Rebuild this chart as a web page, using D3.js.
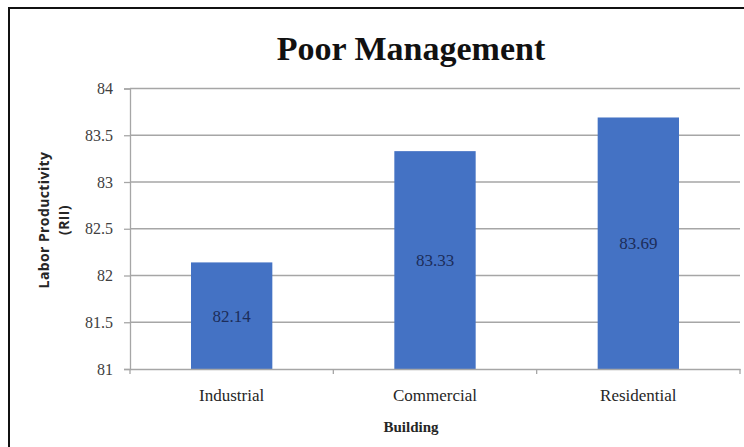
<!DOCTYPE html>
<html><head><meta charset="utf-8">
<script src="https://cdn.jsdelivr.net/npm/d3@7"></script>
<style>html,body{margin:0;padding:0;background:#fff;}svg{display:block;}</style>
</head><body>
<svg id="c" width="744" height="447"></svg>
<script>
const categories = ["Industrial", "Commercial", "Residential"];
const values = [82.14, 83.33, 83.69];
const valueLabels = ["82.14", "83.33", "83.69"];
const yTicks = [81, 81.5, 82, 82.5, 83, 83.5, 84];
const chartTitle = "Poor Management";
const xTitle = "Building";
const yTitleLines = ["Labor Productivity", "(RII)"];

const svg = d3.select("#c");
const serif = "'Liberation Serif','Times New Roman',serif";
const sans = "'Open Sans','Liberation Sans',Arial,sans-serif";

// outer frame
svg.append("rect").attr("x", 9).attr("y", 8).attr("width", 760).attr("height", 460)
  .attr("fill", "#fff").attr("stroke", "#111").attr("stroke-width", 2);

const L = 130, R = 740, T = 88.5, B = 369;
const x = d3.scaleBand().domain(categories).range([L, R]).paddingInner(0.6).paddingOuter(0.3);
const y = d3.scaleLinear().domain([81, 84]).range([B, T]);

// gridlines
svg.append("g").selectAll("line").data(yTicks.slice(1)).join("line")
  .attr("x1", L).attr("x2", R).attr("y1", d => y(d)).attr("y2", d => y(d))
  .attr("stroke", "#a6a6a6").attr("stroke-width", 1.3);

// y axis
const ya = svg.append("g").attr("transform", `translate(${L},0)`)
  .call(d3.axisLeft(y).tickValues(yTicks).tickSize(6).tickPadding(11).tickFormat(d3.format("")));
ya.select(".domain").attr("stroke", "#a6a6a6").attr("stroke-width", 1.3);
ya.selectAll(".tick line").attr("stroke", "#a6a6a6").attr("stroke-width", 1.3);
ya.selectAll("text").attr("font-family", serif).attr("font-size", 16).attr("fill", "#404040");

// bars
svg.append("g").selectAll("rect").data(values).join("rect")
  .attr("x", (d, i) => x(categories[i]))
  .attr("width", x.bandwidth())
  .attr("y", d => y(d))
  .attr("height", d => y(81) - y(d))
  .attr("fill", "#4472c4");

// x axis
const xa = svg.append("g").attr("transform", `translate(0,${B})`)
  .call(d3.axisBottom(x).tickSize(0).tickPadding(20));
xa.select(".domain").attr("stroke", "#a6a6a6").attr("stroke-width", 1.3);
xa.selectAll("text").attr("font-family", serif).attr("font-size", 17).attr("fill", "#262626");
// boundary ticks
svg.append("g").selectAll("line").data(d3.range(categories.length + 1)).join("line")
  .attr("x1", i => L + i * (R - L) / categories.length).attr("x2", i => L + i * (R - L) / categories.length)
  .attr("y1", B).attr("y2", B + 5).attr("stroke", "#a6a6a6").attr("stroke-width", 1.3);

// value labels
svg.append("g").selectAll("text").data(values).join("text")
  .attr("x", (d, i) => x(categories[i]) + x.bandwidth() / 2)
  .attr("y", d => (y(d) + y(81)) / 2 + 6)
  .attr("text-anchor", "middle").attr("font-family", serif).attr("font-size", 17)
  .attr("fill", "#1c2d5a").text((d, i) => valueLabels[i]);

// titles
svg.append("text").attr("x", 411).attr("y", 60).attr("text-anchor", "middle")
  .attr("font-family", serif).attr("font-weight", "bold").attr("font-size", 34)
  .attr("fill", "#111").text(chartTitle);
svg.append("text").attr("x", 411).attr("y", 432).attr("text-anchor", "middle")
  .attr("font-family", serif).attr("font-weight", "bold").attr("font-size", 15)
  .attr("fill", "#262626").text(xTitle);
const yt = svg.append("text").attr("transform", "translate(49,220) rotate(-90)")
  .attr("text-anchor", "middle").attr("font-family", sans).attr("font-weight", "bold")
  .attr("font-size", 14).attr("letter-spacing", 0.4).attr("fill", "#262626");
yt.append("tspan").attr("x", 0).attr("dy", 0).text(yTitleLines[0]);
yt.append("tspan").attr("x", 0).attr("dy", 20).text(yTitleLines[1]);
</script>
</body></html>
